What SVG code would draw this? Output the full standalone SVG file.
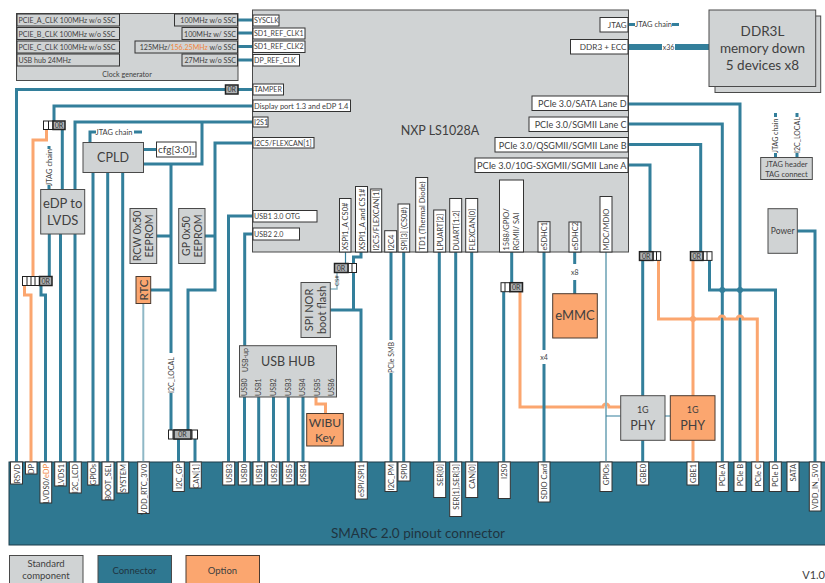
<svg xmlns="http://www.w3.org/2000/svg" width="825" height="583" viewBox="0 0 825 583">
<style>
text{font-family:"Lato","Liberation Sans",sans-serif;fill:#404040;font-size:7.5px}
#clock-generator text,#cpu-left-pins text{font-size:7.1px}
.g{fill:#d0d3d4;stroke:#4a4a4a;stroke-width:1}
.o{fill:#fba66f;stroke:#4a3a30;stroke-width:1}
.w{fill:#fff;stroke:#333;stroke-width:1}
.gp{fill:#d0d3d4;stroke:#333;stroke-width:1}
.c{fill:none;stroke:#337f9b;stroke-width:3}
.t{fill:none;stroke:#8fb8c6;stroke-width:2}
.n{fill:none;stroke:#337f9b;stroke-width:1.2}
.h{fill:none;stroke:#fba66f;stroke-width:3}
.m{text-anchor:middle}
.e{text-anchor:end}
.or{fill:#b0b3b5;stroke:#222;stroke-width:1.5}
.orw{fill:#fff;stroke:#222;stroke-width:1}
.ort{font-size:7px;fill:#333;text-anchor:middle}
.big{font-size:12.500px;text-anchor:middle}
</style>

<g id="connector-block">
<rect x="9" y="462" width="817" height="83" fill="#2f7891" stroke="#1d3d4a" stroke-width="1"/>
<text x="418" y="538" class="m" style="font-size:13.500px;fill:#1f3440">SMARC 2.0 pinout connector</text>
</g>

<g id="connectors">
<path class="c" d="M238 20H253M238 33H253M238 46.500H253M238 60H253"/>
<path class="c" d="M253 89.500H16.500V462"/>
<path class="c" d="M253 106H54V121"/>
<path class="h" d="M46.500 129V140H33V277"/>
<path class="h" d="M24.500 285V295H31V462"/>
<path class="c" d="M41 285V295H45.500V462"/>
<path class="c" d="M49.300 234V277"/>
<path class="c" d="M62.300 129V190"/>
<path class="c" d="M60.500 234V462M75 234V462"/>
<path class="c" d="M75 190V122H253"/>
<path class="c" d="M202 122V164H143.500"/>
<path class="c" d="M171 164V353M171 393V430"/>
<path class="c" d="M156.700 236H171M150.700 290H171"/>
<path class="c" d="M93 172.500V462M107.700 172.500V462M122.700 172.500V462"/>
<path class="c" d="M143.500 149.500H156.500"/>
<path class="c" d="M90 142V132H96M134 132H142"/>
<path class="c" d="M49 146V149M49 185V190"/>
<path class="t" d="M143.300 303V462"/>
<path class="c" d="M253 143H215V290H188V430"/>
<path class="c" d="M205 236H215"/>
<path class="c" d="M178.500 439V462M195 439V462"/>
<path class="c" d="M253 216H228.500V462"/>
<path class="c" d="M253 234H244.700V346"/>
<path class="c" d="M244.500 397V462M258.700 397V462M273.500 397V462M288.300 397V462M303 397V462"/>
<path class="h" d="M316 397V404H325.500V413"/>
<path class="n" d="M345.500 252V263"/>
<path class="t" d="M337 273V289H330" style="stroke-width:1.5"/>
<path class="c" d="M361 252V257H353.500V263M353.500 273V310"/>
<path class="c" d="M330 310H361V462"/>
<path class="c" d="M391 252V340M391 373V462M403.700 252V462M439.300 252V462M455.700 252V462M471.700 252V462"/>
<path class="c" d="M511.700 252V283M503.700 292V462"/>
<path class="h" d="M520 292V407H603a3 3 0 0 1 6 0H620.700"/>
<path class="c" d="M544 252V350M544 364V462"/>
<path class="c" d="M574.700 252V264M574.700 280V294"/>
<path class="t" d="M606 252V462"/>
<path class="n" d="M606 416H620.700M665 416H670.300"/>
<path class="c" d="M628 165H650V252"/>
<path class="c" d="M642.700 260V396M642.700 440V462"/>
<path class="c" d="M628 144.500H700.700V252"/>
<path class="c" d="M628 124H722.300V462M628 104H740V462"/>
<path class="c" d="M709.500 260V290H775.500V462"/>
<circle cx="722.300" cy="290" r="3" fill="#337f9b"/>
<circle cx="740" cy="290" r="3" fill="#337f9b"/>
<path class="h" d="M658.500 260V319H719a3 3 0 0 1 6 0H737a3 3 0 0 1 6 0H757.300V462"/>
<path class="h" d="M693 260V396M693 440V462"/>
<circle cx="693" cy="319" r="3" fill="#fba66f"/>
<path class="c" d="M797 231H815V462"/>
<path class="c" d="M628 24.500H635M672 24.500H679"/>
<path class="c" d="M628 47H662M675 47H709" style="stroke-width:6"/>
<path class="c" d="M775.500 113V117M775.500 153V157.500M797 113V117M797 153V157.500"/>
<text x="114" y="134.500" class="m">JTAG chain</text>
<text x="653.500" y="27" class="m">JTAG chain</text>
<text x="668.500" y="49.500" class="m" style="font-size:7px">x36</text>
<text x="574.700" y="275" class="m" style="font-size:7px">x8</text>
<text x="544" y="360" class="m" style="font-size:7px">x4</text>
<text transform="translate(51.500 186) rotate(-90)">JTAG chain</text>
<text transform="translate(173.500 393) rotate(-90)" style="font-size:7px">I2C_LOCAL</text>
<text transform="translate(393.500 373) rotate(-90)" style="font-size:7px">PCIe SMB</text>
<text transform="translate(339 286) rotate(-90)" style="font-size:6px">CS#</text>
<text transform="translate(778 153) rotate(-90)" style="font-size:7px">JTAG chain</text>
<text transform="translate(799.500 153) rotate(-90)" style="font-size:7px">I2C_LOCAL</text>
</g>

<g id="or-1"><rect class="orw" x="43.500" y="121" width="9.500" height="8.500"/><path d="M48.500 121V129.500" stroke="#222"/><rect class="or" x="53" y="121" width="12" height="8.500"/><text x="59" y="128" class="ort">0R</text></g>
<g id="or-2"><rect class="orw" x="22.500" y="276.500" width="17" height="9"/><path d="M27 276.500V285.500M31 276.500V285.500M35 276.500V285.500" stroke="#222"/><rect class="or" x="39.500" y="276.500" width="12.500" height="9"/><text x="45.700" y="283.500" class="ort">0R</text></g>
<g id="or-3"><rect class="or" x="225.500" y="85" width="12.500" height="9"/><text x="231.700" y="92" class="ort">0R</text></g>
<g id="or-4"><rect class="orw" x="168.500" y="430" width="29" height="9"/><path d="M173 430V439M192 430V439" stroke="#222"/><rect class="or" x="174" y="430" width="17" height="9"/><text x="182.500" y="437" class="ort">0R</text></g>
<g id="or-5"><rect class="orw" x="348" y="263.500" width="8.500" height="9"/><path d="M352 263.500V272.500" stroke="#222"/><rect class="or" x="334.500" y="263.500" width="13.500" height="9"/><text x="341" y="270.500" class="ort">0R</text></g>
<g id="or-6"><rect class="orw" x="501" y="282.700" width="9" height="9"/><path d="M505 282.700V291.700" stroke="#222"/><rect class="or" x="510" y="282.700" width="12.500" height="9"/><text x="516.200" y="289.700" class="ort">0R</text></g>
<g id="or-7"><rect class="orw" x="653" y="251.700" width="7.700" height="8.700"/><path d="M656.500 251.700V260.400" stroke="#222"/><rect class="or" x="639.500" y="251.700" width="13.500" height="8.700"/><text x="646.200" y="258.500" class="ort">0R</text></g>
<g id="or-8"><rect class="orw" x="703" y="251.700" width="9" height="8.700"/><path d="M707 251.700V260.400" stroke="#222"/><rect class="or" x="690.500" y="251.700" width="12.500" height="8.700"/><text x="696.700" y="258.500" class="ort">0R</text></g>

<g id="clock-generator">
<rect class="g" x="16.500" y="13.500" width="221.500" height="67"/>
<rect class="gp" x="17" y="14" width="102.500" height="12"/><text x="18.500" y="23">PCIE_A_CLK 100MHz w/o SSC</text>
<rect class="gp" x="17" y="27.500" width="102.500" height="12"/><text x="18.500" y="36.500">PCIE_B_CLK 100MHz w/o SSC</text>
<rect class="gp" x="17" y="41" width="102.500" height="12"/><text x="18.500" y="50">PCIE_C_CLK 100MHz w/o SSC</text>
<rect class="gp" x="17" y="54" width="102.500" height="12"/><text x="18.500" y="63">USB hub 24MHz</text>
<rect class="gp" x="174.500" y="14" width="63" height="12"/><text x="236" y="23" class="e">100MHz w/o SSC</text>
<rect class="gp" x="182" y="27.500" width="55.500" height="12"/><text x="236" y="36.500" class="e">100MHz w/ SSC</text>
<rect class="gp" x="135" y="41" width="102.500" height="12"/><text x="236" y="49.500" class="e">125MHz/<tspan fill="#f0853c">156.25MHz</tspan> w/o SSC</text>
<rect class="gp" x="182" y="54" width="55.500" height="12"/><text x="236" y="63" class="e">27MHz w/o SSC</text>
<text x="127" y="77" class="m">Clock generator</text>
</g>

<g id="cpu">
<rect class="g" x="252.500" y="10" width="376" height="242"/>
<text x="440" y="135" class="m" style="font-size:12.500px">NXP LS1028A</text>
<g id="cpu-left-pins">
<rect class="w" x="253" y="15" width="26" height="11"/><text x="254" y="23">SYSCLK</text>
<rect class="w" x="253" y="28" width="52" height="11"/><text x="254" y="36">SD1_REF_CLK1</text>
<rect class="w" x="253" y="41" width="52" height="11.500"/><text x="254" y="49">SD1_REF_CLK2</text>
<rect class="w" x="253" y="54.500" width="46.500" height="11.500"/><text x="254" y="63">DP_REF_CLK</text>
<rect class="w" x="253" y="84" width="30.500" height="11"/><text x="254" y="92">TAMPER</text>
<rect class="w" x="253" y="100" width="97.500" height="11.500"/><text x="254" y="108.500" style="font-size:7.500px">Display port 1.3 and eDP 1.4</text>
<rect class="w" x="253" y="117" width="15" height="10"/><text x="254" y="125">I2S1</text>
<rect class="w" x="253" y="137.500" width="61" height="10.500"/><text x="254" y="145.500">I2C5/FLEXCAN[1]</text>
<rect class="w" x="253" y="210.500" width="64" height="11.500"/><text x="254" y="219">USB1 3.0 OTG</text>
<rect class="w" x="253" y="228" width="46.500" height="12"/><text x="254" y="237">USB2 2.0</text>
</g>
<g id="cpu-right-pins">
<rect class="w" x="600" y="17.500" width="28" height="14.500"/><text x="626.500" y="28" class="e" style="font-size:8px">JTAG</text>
<rect class="w" x="570.500" y="39.500" width="57.500" height="14.500"/><text x="626.500" y="50" class="e" style="font-size:8.200px">DDR3 + ECC</text>
<rect class="w" x="532" y="96" width="96" height="14.500"/><text x="626.500" y="107" class="e" style="font-size:9px">PCIe 3.0/SATA Lane D</text>
<rect class="w" x="529" y="117" width="99" height="14.500"/><text x="626.500" y="128" class="e" style="font-size:9px">PCIe 3.0/SGMII Lane C</text>
<rect class="w" x="495" y="137.500" width="133" height="14.500"/><text x="626.500" y="148.500" class="e" style="font-size:9px">PCIe 3.0/QSGMII/SGMII Lane B</text>
<rect class="w" x="475" y="158" width="153" height="14.500"/><text x="626.500" y="169" class="e" style="font-size:9.200px">PCIe 3.0/10G-SXGMII/SGMII Lane A</text>
</g>
<g id="cpu-bottom-pins">
<rect class="w" x="339.500" y="198.500" width="11.500" height="53.500"/><text transform="translate(348 250.500) rotate(-90)">XSPI1_A CS0#</text>
<rect class="w" x="355.500" y="186.500" width="12" height="65.500"/><text transform="translate(364.500 250.500) rotate(-90)">XSPI1_A and CS1#</text>
<rect class="w" x="370.700" y="189" width="11" height="63"/><text transform="translate(379 250.500) rotate(-90)">I2C5/FLEXCAN[1]</text>
<rect class="w" x="384.700" y="230.700" width="12" height="21.300"/><text transform="translate(393.500 250.500) rotate(-90)">I2C4</text>
<rect class="w" x="398" y="204" width="11.700" height="48"/><text transform="translate(406.800 250.500) rotate(-90)">SPI[3] (CS0#)</text>
<rect class="w" x="415.700" y="177.500" width="12" height="74.500"/><text transform="translate(424.700 250.500) rotate(-90)">TD1 (Thermal Diode)</text>
<rect class="w" x="433.700" y="210" width="12" height="42"/><text transform="translate(442.700 250.500) rotate(-90)">LPUART[2]</text>
<rect class="w" x="449.700" y="198.500" width="12" height="53.500"/><text transform="translate(458.700 250.500) rotate(-90)">DUART[1:2]</text>
<rect class="w" x="465.700" y="198.500" width="12" height="53.500"/><text transform="translate(474.700 250.500) rotate(-90)">FLEXCAN[0]</text>
<rect class="w" x="499.500" y="180" width="24" height="72"/><text transform="translate(509 250.500) rotate(-90)">1588/GPIO/</text><text transform="translate(518.500 250.500) rotate(-90)">RGMII/ SAI</text>
<rect class="w" x="538" y="221.700" width="12" height="30.300"/><text transform="translate(547 250.500) rotate(-90)">eSDHC1</text>
<rect class="w" x="569" y="222" width="12" height="30"/><text transform="translate(578 250.500) rotate(-90)">eSDHC2</text>
<rect class="w" x="600" y="196.500" width="12" height="55.500"/><text transform="translate(609 250.500) rotate(-90)">MDC/MDIO</text>
</g>
</g>

<g id="cpld"><rect class="g" x="83" y="142.500" width="60.500" height="30"/><text x="113" y="162" class="big">CPLD</text></g>
<g id="cfg"><rect class="w" x="156.500" y="142" width="39.500" height="15"/><text x="158" y="153" style="font-size:10px">cfg[3:0]<tspan dy="2" style="font-size:6px">s</tspan></text></g>
<g id="edp-lvds"><rect class="g" x="40.700" y="189.500" width="44" height="44.500"/><text x="62.700" y="208" class="big" style="font-size:13px">eDP to</text><text x="62.700" y="225" class="big" style="font-size:13px">LVDS</text></g>
<g id="rcw-eeprom"><rect class="g" x="130" y="208.500" width="26.700" height="55"/><text transform="translate(141 236) rotate(-90)" class="m" style="font-size:10.500px">RCW 0x50</text><text transform="translate(153 236) rotate(-90)" class="m" style="font-size:10.500px">EEPROM</text></g>
<g id="gp-eeprom"><rect class="g" x="178.700" y="208.500" width="26.300" height="55"/><text transform="translate(189.500 236) rotate(-90)" class="m" style="font-size:10.500px">GP 0x50</text><text transform="translate(201.500 236) rotate(-90)" class="m" style="font-size:10.500px">EEPROM</text></g>
<g id="rtc"><rect class="o" x="136" y="276.500" width="14.700" height="27"/><text transform="translate(147.500 290) rotate(-90)" class="m" style="font-size:11.500px">RTC</text></g>
<g id="usb-hub"><rect class="g" x="239.500" y="345.700" width="97" height="51.300"/><text x="288" y="366" class="big">USB HUB</text>
<text transform="translate(247.500 372) rotate(-90)" style="font-size:7px">USB-up</text>
<text transform="translate(246.500 396) rotate(-90)" style="font-size:7px">USB0</text>
<text transform="translate(261 396) rotate(-90)" style="font-size:7px">USB1</text>
<text transform="translate(276 396) rotate(-90)" style="font-size:7px">USB2</text>
<text transform="translate(290.500 396) rotate(-90)" style="font-size:7px">USB3</text>
<text transform="translate(305 396) rotate(-90)" style="font-size:7px">USB4</text>
<text transform="translate(319.500 396) rotate(-90)" style="font-size:7px">USB5</text>
<text transform="translate(333.500 396) rotate(-90)" style="font-size:7px">USB6</text></g>
<g id="spi-nor"><rect class="g" x="301" y="282.500" width="29.300" height="55"/><text transform="translate(312.500 310) rotate(-90)" class="m" style="font-size:11px">SPI NOR</text><text transform="translate(326 310) rotate(-90)" class="m" style="font-size:11px">boot flash</text></g>
<g id="wibu"><rect class="o" x="306.700" y="413.500" width="36.600" height="32.500"/><text x="325" y="426.500" class="m" style="font-size:12px">WIBU</text><text x="325" y="442" class="m" style="font-size:12px">Key</text></g>
<g id="emmc"><rect class="o" x="552.700" y="293.700" width="44.600" height="44.300"/><text x="575" y="320" class="m" style="font-size:13px">eMMC</text></g>
<g id="phy-std"><rect class="g" x="620.700" y="395.700" width="44.300" height="44.600"/><text x="642.800" y="413" class="m" style="font-size:9px">1G</text><text x="642.800" y="430" class="m" style="font-size:12.500px">PHY</text></g>
<g id="phy-opt"><rect class="o" x="670.300" y="395.700" width="44.700" height="44.600"/><text x="692.700" y="413" class="m" style="font-size:9px">1G</text><text x="692.700" y="430" class="m" style="font-size:12.500px">PHY</text></g>
<g id="power"><rect class="g" x="768" y="208.700" width="29.300" height="44.600"/><text x="782.700" y="234" class="m" style="font-size:8.500px">Power</text></g>
<g id="ddr3l"><rect class="g" x="715" y="16" width="105.700" height="76.500"/><rect class="g" x="709" y="10" width="106.700" height="76.500"/><text x="762.500" y="36" class="m" style="font-size:13.500px">DDR3L</text><text x="762.500" y="53" class="m" style="font-size:13.500px">memory down</text><text x="762.500" y="70" class="m" style="font-size:13.500px">5 devices x8</text></g>
<g id="jtag-header"><rect class="g" x="760.700" y="157.500" width="51.600" height="22"/><text x="786.500" y="166.500" class="m">JTAG header</text><text x="786.500" y="177" class="m">TAG connect</text></g>

<g id="pinout-labels">
<rect class="w" x="10.500" y="462" width="12" height="22"/><text transform="translate(19.500 464) rotate(-90)" class="e">RSVD</text>
<rect class="w" x="25.500" y="462" width="11.500" height="12"/><text transform="translate(34 464) rotate(-90)" class="e">DP</text>
<rect class="w" x="40" y="462" width="11.700" height="41"/><text transform="translate(48.800 464) rotate(-90)" class="e">LVDS0/<tspan fill="#f0853c">eDP</tspan></text>
<rect class="w" x="54.700" y="462" width="11.600" height="24"/><text transform="translate(63.500 464) rotate(-90)" class="e">LVDS1</text>
<rect class="w" x="69.300" y="462" width="12" height="31"/><text transform="translate(78.300 464) rotate(-90)" class="e">I2C_LCD</text>
<rect class="w" x="87.700" y="462" width="11.300" height="23"/><text transform="translate(96.300 464) rotate(-90)" class="e">GPIOs</text>
<rect class="w" x="102" y="462" width="12" height="38"/><text transform="translate(111 464) rotate(-90)" class="e">BOOT_SEL</text>
<rect class="w" x="117" y="462" width="11.700" height="31"/><text transform="translate(125.800 464) rotate(-90)" class="e">SYSTEM</text>
<rect class="w" x="137.700" y="462" width="11.600" height="51.500"/><text transform="translate(146.500 464) rotate(-90)" class="e">VDD_RTC_3V0</text>
<rect class="w" x="172.700" y="462" width="11.600" height="29.500"/><text transform="translate(181.500 464) rotate(-90)" class="e">I2C_GP</text>
<rect class="w" x="189.700" y="462" width="11.600" height="26"/><text transform="translate(198.500 464) rotate(-90)" class="e">CAN[1]</text>
<rect class="w" x="222.700" y="462" width="12" height="23"/><text transform="translate(231.700 464) rotate(-90)" class="e">USB3</text>
<rect class="w" x="238.300" y="462" width="11.700" height="23"/><text transform="translate(247.200 464) rotate(-90)" class="e">USB0</text>
<rect class="w" x="253" y="462" width="11.700" height="23"/><text transform="translate(261.800 464) rotate(-90)" class="e">USB1</text>
<rect class="w" x="267.700" y="462" width="11.600" height="23"/><text transform="translate(276.500 464) rotate(-90)" class="e">USB2</text>
<rect class="w" x="282.700" y="462" width="11.600" height="23"/><text transform="translate(291.500 464) rotate(-90)" class="e">USB5</text>
<rect class="w" x="297.300" y="462" width="11.700" height="23"/><text transform="translate(306 464) rotate(-90)" class="e">USB4</text>
<rect class="w" x="355.300" y="462" width="12" height="37"/><text transform="translate(364.300 464) rotate(-90)" class="e">eSPI/SPI1</text>
<rect class="w" x="385" y="462" width="12" height="29.500"/><text transform="translate(394 464) rotate(-90)" class="e">I2C_PM</text>
<rect class="w" x="398" y="462" width="12" height="19"/><text transform="translate(407 464) rotate(-90)" class="e">SPI0</text>
<rect class="w" x="433.700" y="462" width="12" height="35.500"/><text transform="translate(442.700 464) rotate(-90)" class="e">SER[0]</text>
<rect class="w" x="449.700" y="462" width="12" height="54.500"/><text transform="translate(458.700 464) rotate(-90)" class="e">SER[1],SER[3]</text>
<rect class="w" x="465.700" y="462" width="12" height="35.500"/><text transform="translate(474.700 464) rotate(-90)" class="e">CAN[0]</text>
<rect class="w" x="498.300" y="462" width="12" height="36.500"/><text transform="translate(507.300 464) rotate(-90)" class="e">I2S0</text>
<rect class="w" x="538.300" y="462" width="11.700" height="40"/><text transform="translate(547.200 464) rotate(-90)" class="e">SDIO Card</text>
<rect class="w" x="600" y="462" width="12" height="29.500"/><text transform="translate(609 464) rotate(-90)" class="e">GPIOs</text>
<rect class="w" x="636.700" y="462" width="12" height="23"/><text transform="translate(645.700 464) rotate(-90)" class="e">GBE0</text>
<rect class="w" x="687" y="462" width="11.700" height="23"/><text transform="translate(695.800 464) rotate(-90)" class="e">GBE1</text>
<rect class="w" x="716.300" y="462" width="12" height="29.500"/><text transform="translate(725.300 464) rotate(-90)" class="e">PCIe A</text>
<rect class="w" x="734" y="462" width="12" height="29.500"/><text transform="translate(743 464) rotate(-90)" class="e">PCIe B</text>
<rect class="w" x="751.700" y="462" width="12" height="29.500"/><text transform="translate(760.700 464) rotate(-90)" class="e">PCIe C</text>
<rect class="w" x="769.300" y="462" width="12" height="29.500"/><text transform="translate(778.300 464) rotate(-90)" class="e">PCIe D</text>
<rect class="w" x="787" y="462" width="12" height="29.500"/><text transform="translate(796 464) rotate(-90)" class="e">SATA</text>
<rect class="w" x="809.300" y="462" width="11.700" height="49"/><text transform="translate(818.200 464) rotate(-90)" class="e">VDD_IN_5V0</text>
</g>

<g id="legend">
<rect class="g" x="9.500" y="555.500" width="73.500" height="30"/><text x="46" y="567" class="m" style="font-size:9.500px">Standard</text><text x="46" y="579" class="m" style="font-size:9.500px">component</text>
<rect x="98" y="555.500" width="73.500" height="30" fill="#2f7891" stroke="#4a4a4a"/><text x="134.500" y="573.500" class="m" style="font-size:9.500px;fill:#1f3440">Connector</text>
<rect class="o" x="186" y="555.500" width="73.500" height="30"/><text x="222.500" y="573.500" class="m" style="font-size:9.500px">Option</text>
<text x="825" y="579" class="e" style="font-size:11px">V1.0</text>
</g>
</svg>
